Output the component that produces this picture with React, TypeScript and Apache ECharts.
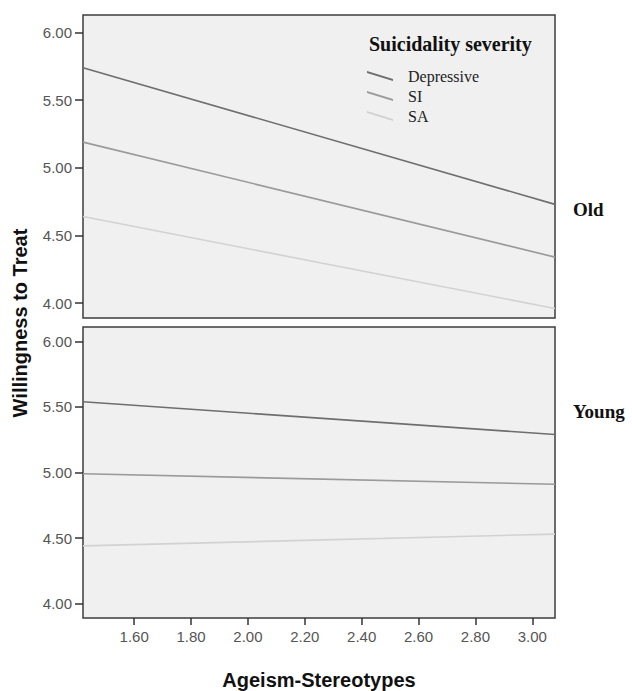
import React, { useEffect, useRef } from "react";
import * as echarts from "echarts";

const xEnds = [1.42, 3.08];
const seriesNames = ["Depressive", "SI", "SA"];
const oldValues = [
  [5.74, 4.73],
  [5.19, 4.34],
  [4.64, 3.96],
];
const youngValues = [
  [5.54, 5.29],
  [4.99, 4.91],
  [4.44, 4.53],
];
const lineColors = ["#6e6e6e", "#9a9a9a", "#d2d2d2"];
const yTicks = [4.0, 4.5, 5.0, 5.5, 6.0];
const xTicks = [1.6, 1.8, 2.0, 2.2, 2.4, 2.6, 2.8, 3.0];
const panelLabels = ["Old", "Young"];

export default function App() {
  const ref = useRef<HTMLDivElement>(null);
  useEffect(() => {
    if (!ref.current) return;
    const chart = echarts.init(ref.current, null, { renderer: "svg" });
    const sans = "'Liberation Sans', Arial, sans-serif";
    const serif = "'Liberation Serif', 'Times New Roman', serif";
    const grids = [
      { left: 83, top: 15, width: 472, height: 303 },
      { left: 83, top: 327, width: 472, height: 303 },
    ].map((g) => ({
      ...g,
      show: true,
      backgroundColor: "#f0f0f0",
      borderColor: "#3c3c3c",
      borderWidth: 1.5,
    }));
    const xAxes = [0, 1].map((i) => ({
      type: "value",
      gridIndex: i,
      min: xEnds[0],
      max: xEnds[1],
      splitLine: { show: false },
      axisLine: { show: false },
      axisTick: {
        show: i === 1,
        length: 7,
        customValues: xTicks,
        lineStyle: { color: "#333", width: 1.5 },
      },
      axisLabel: {
        show: i === 1,
        customValues: xTicks,
        formatter: (v: number) => v.toFixed(2),
        color: "#555",
        fontFamily: sans,
        fontSize: 15,
        margin: 11,
      },
      name: i === 1 ? "Ageism-Stereotypes" : "",
      nameLocation: "middle",
      nameGap: 52,
      nameTextStyle: {
        fontFamily: sans,
        fontWeight: "bold",
        fontSize: 20,
        color: "#111",
      },
    }));
    const yAxes = [0, 1].map((i) => ({
      type: "value",
      gridIndex: i,
      min: 3.89,
      max: i === 0 ? 6.13 : 6.11,
      splitLine: { show: false },
      axisLine: { show: false },
      axisTick: {
        show: true,
        length: 8,
        customValues: yTicks,
        lineStyle: { color: "#333", width: 1.5 },
      },
      axisLabel: {
        customValues: yTicks,
        formatter: (v: number) => v.toFixed(2),
        color: "#555",
        fontFamily: sans,
        fontSize: 15,
        margin: 11,
      },
    }));
    const series: any[] = [];
    [oldValues, youngValues].forEach((vals, gi) => {
      vals.forEach((v, si) => {
        series.push({
          type: "line",
          name: seriesNames[si],
          xAxisIndex: gi,
          yAxisIndex: gi,
          data: xEnds.map((x, k) => [x, v[k]]),
          showSymbol: false,
          symbol: "none",
          lineStyle: { color: lineColors[si], width: 1.6 },
          itemStyle: { color: lineColors[si] },
          silent: true,
        });
      });
    });
    chart.setOption({
      animation: false,
      title: {
        text: "Suicidality severity",
        left: 369,
        top: 34,
        padding: 0,
        textStyle: {
          fontFamily: serif,
          fontWeight: "bold",
          fontSize: 20,
          color: "#111",
        },
      },
      legend: {
        orient: "vertical",
        left: 367,
        top: 68,
        padding: 0,
        itemGap: 4,
        itemWidth: 26,
        itemHeight: 10,
        data: seriesNames.map((n) => ({
          name: n,
          icon: "path://M0,0 L26,8 L26,10 L0,2 Z",
        })),
        textStyle: {
          fontFamily: serif,
          fontSize: 16,
          color: "#222",
          padding: [0, 0, 0, 10],
        },
        selectedMode: false,
      },
      grid: grids,
      xAxis: xAxes,
      yAxis: yAxes,
      series,
      graphic: [
        {
          type: "text",
          x: 20,
          y: 323,
          rotation: Math.PI / 2,
          style: {
            text: "Willingness to Treat",
            font: `bold 20px ${sans}`,
            fill: "#111",
            align: "center",
            verticalAlign: "middle",
          },
        },
        ...panelLabels.map((t, i) => ({
          type: "text",
          x: 573,
          y: i === 0 ? 209 : 411,
          style: {
            text: t,
            font: `bold 19px ${serif}`,
            fill: "#111",
            align: "left",
            verticalAlign: "middle",
          },
        })),
      ],
    });
    return () => chart.dispose();
  }, []);
  return (
    <div
      ref={ref}
      style={{ position: "fixed", left: 0, top: 0, width: 632, height: 691, background: "#fff" }}
    />
  );
}
